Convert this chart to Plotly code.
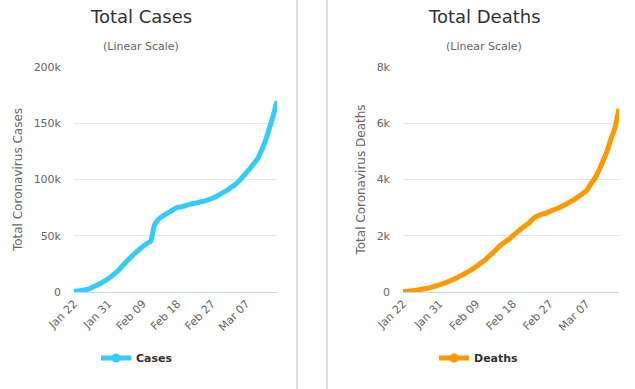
import plotly.graph_objects as go
import pandas as pd

dates = pd.date_range("2020-01-22", "2020-03-15", freq="D")

total_cases = [580, 845, 1317, 2015, 2800, 4581, 6058, 7813, 9823, 11950,
               14553, 17391, 20630, 24545, 28266, 31439, 34876, 37552, 40553, 43099,
               45134, 59287, 64438, 67100, 69197, 71329, 73332, 75184, 75700, 76677,
               77673, 78651, 79205, 80087, 80828, 81820, 83112, 84615, 86604, 88585,
               90443, 93016, 95314, 98425, 102050, 106099, 109991, 114381, 118948, 126214,
               134576, 145483, 156653, 169593]

total_deaths = [17, 25, 41, 56, 80, 106, 132, 170, 213, 259,
                304, 362, 426, 492, 565, 638, 724, 813, 910, 1018,
                1115, 1261, 1383, 1526, 1669, 1775, 1873, 2009, 2126, 2247,
                2360, 2460, 2618, 2699, 2763, 2800, 2858, 2923, 2977, 3050,
                3117, 3202, 3285, 3387, 3494, 3599, 3827, 4025, 4296, 4628,
                4981, 5428, 5833, 6520]

x_ticks = ["2020-01-22", "2020-01-31", "2020-02-09", "2020-02-18", "2020-02-27", "2020-03-07"]
cases_yticks = [0, 50000, 100000, 150000, 200000]
cases_ylabels = ["0", "50k", "100k", "150k", "200k"]
deaths_yticks = [0, 2000, 4000, 6000, 8000]
deaths_ylabels = ["0", "2k", "4k", "6k", "8k"]

CASE_COLOR = "#33ccff"
DEATH_COLOR = "#ff9900"
FONT = "DejaVu Sans"
W, H = 635, 389

fig = go.Figure()

fig.add_trace(go.Scatter(x=dates, y=total_cases, mode="lines", name="Cases",
                         line=dict(color=CASE_COLOR, width=5, shape="spline", smoothing=0.6),
                         showlegend=False, cliponaxis=False, xaxis="x", yaxis="y"))
fig.add_trace(go.Scatter(x=[None], y=[None], mode="lines+markers", name="Cases",
                         line=dict(color=CASE_COLOR, width=5),
                         marker=dict(color=CASE_COLOR, size=9),
                         legend="legend", xaxis="x", yaxis="y"))
fig.add_trace(go.Scatter(x=dates, y=total_deaths, mode="lines", name="Deaths",
                         line=dict(color=DEATH_COLOR, width=5, shape="spline", smoothing=0.6),
                         showlegend=False, cliponaxis=False, xaxis="x2", yaxis="y2"))
fig.add_trace(go.Scatter(x=[None], y=[None], mode="lines+markers", name="Deaths",
                         line=dict(color=DEATH_COLOR, width=5),
                         marker=dict(color=DEATH_COLOR, size=9),
                         legend="legend2", xaxis="x2", yaxis="y2"))

ydom = [1 - 292 / H, 1 - 67 / H]

xcommon = dict(type="date", tickvals=x_ticks, tickformat="%b %d", tickangle=-45,
               showgrid=False, showline=True, linecolor="#ccd6eb", linewidth=1,
               ticks="", tickfont=dict(family=FONT, size=11, color="#666666"),
               range=["2020-01-22", "2020-03-15"], fixedrange=True, zeroline=False,
               automargin=False)
ycommon = dict(showgrid=True, gridcolor="#e6e6e6", gridwidth=1, zeroline=False,
               showline=False, ticks="", ticklabelstandoff=12,
               tickfont=dict(family=FONT, size=11, color="#666666"),
               title_font=dict(family=FONT, size=12, color="#666666"),
               title_standoff=8, domain=ydom, automargin=False, fixedrange=True)

fig.update_layout(
    width=W, height=H,
    margin=dict(l=0, r=0, t=0, b=0, autoexpand=False),
    paper_bgcolor="white", plot_bgcolor="white",
    font=dict(family=FONT, color="#333333"),
    xaxis=dict(domain=[74 / W, 277 / W], anchor="y", **xcommon),
    yaxis=dict(anchor="x", range=[0, 200000], tickvals=cases_yticks, ticktext=cases_ylabels,
               title_text="Total Coronavirus Cases", **ycommon),
    xaxis2=dict(domain=[403 / W, 619 / W], anchor="y2", **xcommon),
    yaxis2=dict(anchor="x2", range=[0, 8000], tickvals=deaths_yticks, ticktext=deaths_ylabels,
                title_text="Total Coronavirus Deaths", **ycommon),
    legend=dict(orientation="h", x=137 / W, y=1 - 358 / H, xanchor="center", yanchor="middle",
                font=dict(family=FONT, size=11, color="#333333", weight="bold"),
                itemwidth=30, bgcolor="rgba(0,0,0,0)"),
    legend2=dict(orientation="h", x=479 / W, y=1 - 358 / H, xanchor="center", yanchor="middle",
                 font=dict(family=FONT, size=11, color="#333333", weight="bold"),
                 itemwidth=30, bgcolor="rgba(0,0,0,0)"),
    annotations=[
        dict(text="Total Cases", x=141 / W, y=1 - 17 / H, xref="paper", yref="paper",
             showarrow=False, xanchor="center", yanchor="middle",
             font=dict(family=FONT, size=18, color="#333333")),
        dict(text="(Linear Scale)", x=141 / W, y=1 - 46 / H, xref="paper", yref="paper",
             showarrow=False, xanchor="center", yanchor="middle",
             font=dict(family=FONT, size=11, color="#666666")),
        dict(text="Total Deaths", x=484 / W, y=1 - 17 / H, xref="paper", yref="paper",
             showarrow=False, xanchor="center", yanchor="middle",
             font=dict(family=FONT, size=18, color="#333333")),
        dict(text="(Linear Scale)", x=484 / W, y=1 - 46 / H, xref="paper", yref="paper",
             showarrow=False, xanchor="center", yanchor="middle",
             font=dict(family=FONT, size=11, color="#666666")),
    ],
    shapes=[
        dict(type="line", xref="paper", yref="paper", x0=297 / W, x1=297 / W, y0=0, y1=1,
             line=dict(color="#dddddd", width=2)),
        dict(type="line", xref="paper", yref="paper", x0=327 / W, x1=327 / W, y0=0, y1=1,
             line=dict(color="#dddddd", width=2)),
    ],
)

fig.write_html("out.html", config={"displayModeBar": False},
               post_script="document.body.style.margin='0';document.body.style.padding='0';")
